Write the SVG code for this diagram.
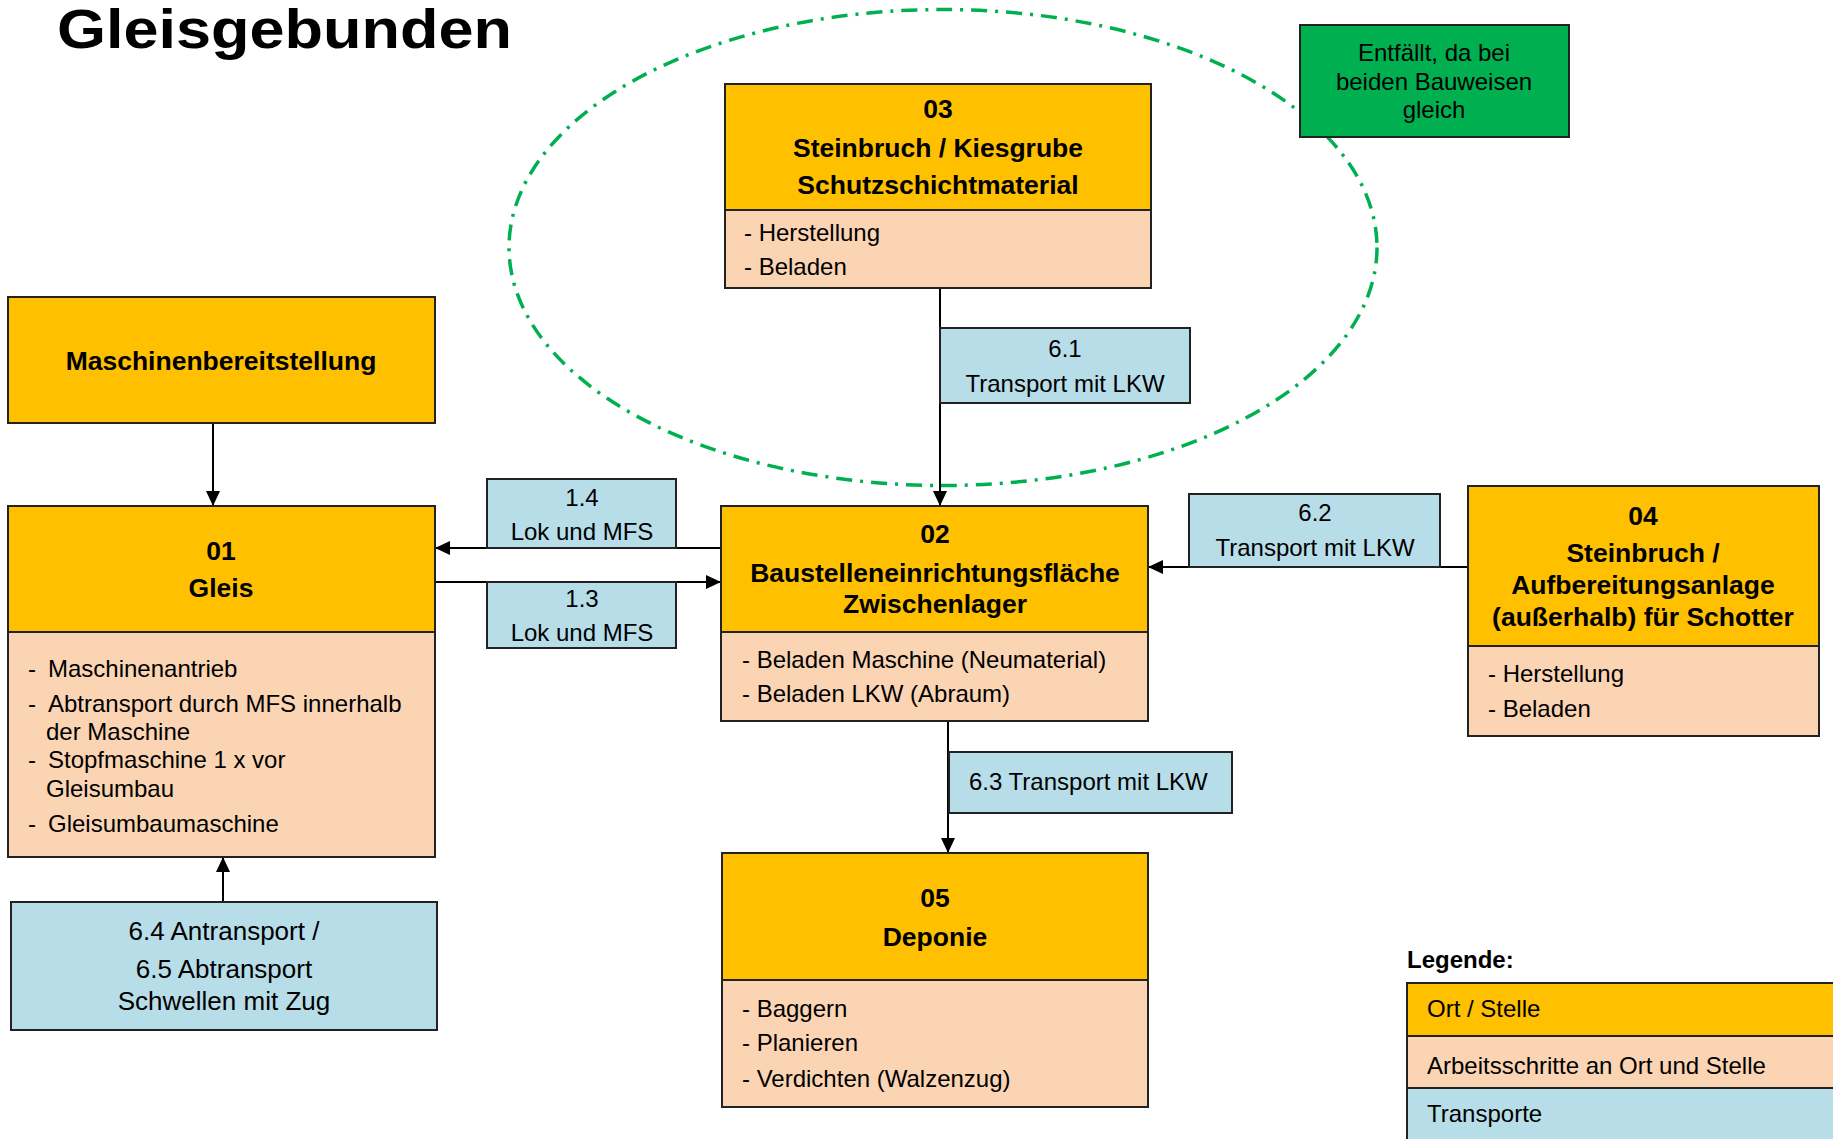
<svg xmlns="http://www.w3.org/2000/svg" width="1833" height="1139" viewBox="0 0 1833 1139">
<defs>
<style>
.loc{fill:#FFC000;stroke:#222;stroke-width:2}
.work{fill:#FBD4B4;stroke:#222;stroke-width:2}
.tr{fill:#B7DDE8;stroke:#222;stroke-width:2}
.note{fill:#00B050;stroke:#222;stroke-width:2}
.h{font-family:"Liberation Sans",Arial,sans-serif;font-weight:bold;font-size:26.5px;fill:#000;text-anchor:middle}
.b{font-family:"Liberation Sans",Arial,sans-serif;font-size:24px;fill:#000}
.c{font-family:"Liberation Sans",Arial,sans-serif;font-size:24px;fill:#000;text-anchor:middle}
.c26{font-family:"Liberation Sans",Arial,sans-serif;font-size:26px;fill:#000;text-anchor:middle}
.conn{stroke:#000;stroke-width:2;fill:none}
</style>
<marker id="arr" markerUnits="userSpaceOnUse" markerWidth="16" markerHeight="14" refX="15" refY="7" orient="auto">
<path d="M0,0 L15,7 L0,14 z" fill="#000"/>
</marker>
</defs>
<rect width="1833" height="1139" fill="#fff"/>

<text x="57" y="48" font-family="Liberation Sans, Arial, sans-serif" font-weight="bold" font-size="56" textLength="455" lengthAdjust="spacingAndGlyphs">Gleisgebunden</text>

<ellipse cx="943" cy="247.5" rx="434" ry="238" fill="none" stroke="#00B050" stroke-width="3.5" stroke-dasharray="16 8 3 8"/>

<g id="connectors">
<line class="conn" x1="213" y1="423" x2="213" y2="506" marker-end="url(#arr)"/>
<line class="conn" x1="940" y1="288" x2="940" y2="506" marker-end="url(#arr)"/>
<line class="conn" x1="721" y1="548" x2="435" y2="548" marker-end="url(#arr)"/>
<line class="conn" x1="435" y1="582" x2="721" y2="582" marker-end="url(#arr)"/>
<line class="conn" x1="1468" y1="567" x2="1148" y2="567" marker-end="url(#arr)"/>
<line class="conn" x1="948" y1="721" x2="948" y2="853" marker-end="url(#arr)"/>
<line class="conn" x1="223" y1="902" x2="223" y2="857" marker-end="url(#arr)"/>
</g>

<g id="node-maschinen">
<rect class="loc" x="8" y="297" width="427" height="126"/>
<text class="h" x="221" y="370">Maschinenbereitstellung</text>
</g>

<g id="node-01">
<rect class="loc" x="8" y="506" width="427" height="126"/>
<rect class="work" x="8" y="632" width="427" height="225"/>
<text class="h" x="221" y="560">01</text>
<text class="h" x="221" y="597">Gleis</text>
<text class="b" x="28" y="677">-</text><text class="b" x="48" y="677">Maschinenantrieb</text>
<text class="b" x="28" y="712">-</text><text class="b" x="48" y="712">Abtransport durch MFS innerhalb</text>
<text class="b" x="46" y="740">der Maschine</text>
<text class="b" x="28" y="768">-</text><text class="b" x="48" y="768">Stopfmaschine 1 x vor</text>
<text class="b" x="46" y="797">Gleisumbau</text>
<text class="b" x="28" y="832">-</text><text class="b" x="48" y="832">Gleisumbaumaschine</text>
</g>

<g id="node-02">
<rect class="loc" x="721" y="506" width="427" height="126"/>
<rect class="work" x="721" y="632" width="427" height="89"/>
<text class="h" x="935" y="543">02</text>
<text class="h" x="935" y="582">Baustelleneinrichtungsfläche</text>
<text class="h" x="935" y="613">Zwischenlager</text>
<text class="b" x="742" y="668">- Beladen Maschine (Neumaterial)</text>
<text class="b" x="742" y="702">- Beladen LKW (Abraum)</text>
</g>

<g id="node-03">
<rect class="loc" x="725" y="84" width="426" height="126"/>
<rect class="work" x="725" y="210" width="426" height="78"/>
<text class="h" x="938" y="118">03</text>
<text class="h" x="938" y="157">Steinbruch / Kiesgrube</text>
<text class="h" x="938" y="194">Schutzschichtmaterial</text>
<text class="b" x="744" y="241">- Herstellung</text>
<text class="b" x="744" y="275">- Beladen</text>
</g>

<g id="node-04">
<rect class="loc" x="1468" y="486" width="351" height="160"/>
<rect class="work" x="1468" y="646" width="351" height="90"/>
<text class="h" x="1643" y="525">04</text>
<text class="h" x="1643" y="562">Steinbruch /</text>
<text class="h" x="1643" y="594">Aufbereitungsanlage</text>
<text class="h" x="1643" y="626">(außerhalb) für Schotter</text>
<text class="b" x="1488" y="682">- Herstellung</text>
<text class="b" x="1488" y="717">- Beladen</text>
</g>

<g id="node-05">
<rect class="loc" x="722" y="853" width="426" height="127"/>
<rect class="work" x="722" y="980" width="426" height="127"/>
<text class="h" x="935" y="907">05</text>
<text class="h" x="935" y="946">Deponie</text>
<text class="b" x="742" y="1017">- Baggern</text>
<text class="b" x="742" y="1051">- Planieren</text>
<text class="b" x="742" y="1087">- Verdichten (Walzenzug)</text>
</g>

<g id="note-entfaellt">
<rect class="note" x="1300" y="25" width="269" height="112"/>
<text class="c" x="1434" y="61">Entfällt, da bei</text>
<text class="c" x="1434" y="90">beiden Bauweisen</text>
<text class="c" x="1434" y="118">gleich</text>
</g>

<g id="t-6-1">
<rect class="tr" x="940" y="328" width="250" height="75"/>
<text class="c" x="1065" y="357">6.1</text>
<text class="c" x="1065" y="392">Transport mit LKW</text>
</g>

<g id="t-1-4">
<rect class="tr" x="487" y="479" width="189" height="69"/>
<text class="c" x="582" y="506">1.4</text>
<text class="c" x="582" y="540">Lok und MFS</text>
</g>

<g id="t-1-3">
<rect class="tr" x="487" y="582" width="189" height="66"/>
<text class="c" x="582" y="607">1.3</text>
<text class="c" x="582" y="641">Lok und MFS</text>
</g>

<g id="t-6-2">
<rect class="tr" x="1189" y="494" width="251" height="73"/>
<text class="c" x="1315" y="521">6.2</text>
<text class="c" x="1315" y="556">Transport mit LKW</text>
</g>

<g id="t-6-3">
<rect class="tr" x="949" y="752" width="283" height="61"/>
<text class="b" x="969" y="790">6.3 Transport mit LKW</text>
</g>

<g id="t-6-4">
<rect class="tr" x="11" y="902" width="426" height="128"/>
<text class="c26" x="224" y="940">6.4 Antransport /</text>
<text class="c26" x="224" y="978">6.5 Abtransport</text>
<text class="c26" x="224" y="1010">Schwellen mit Zug</text>
</g>

<g id="legend">
<text x="1407" y="968" font-family="Liberation Sans, Arial, sans-serif" font-weight="bold" font-size="24">Legende:</text>
<rect class="loc" x="1407" y="983" width="440" height="53"/>
<rect class="work" x="1407" y="1036" width="440" height="52"/>
<rect class="tr" x="1407" y="1088" width="440" height="60"/>
<text class="b" x="1427" y="1017">Ort / Stelle</text>
<text class="b" x="1427" y="1074">Arbeitsschritte an Ort und Stelle</text>
<text class="b" x="1427" y="1122">Transporte</text>
</g>
</svg>
